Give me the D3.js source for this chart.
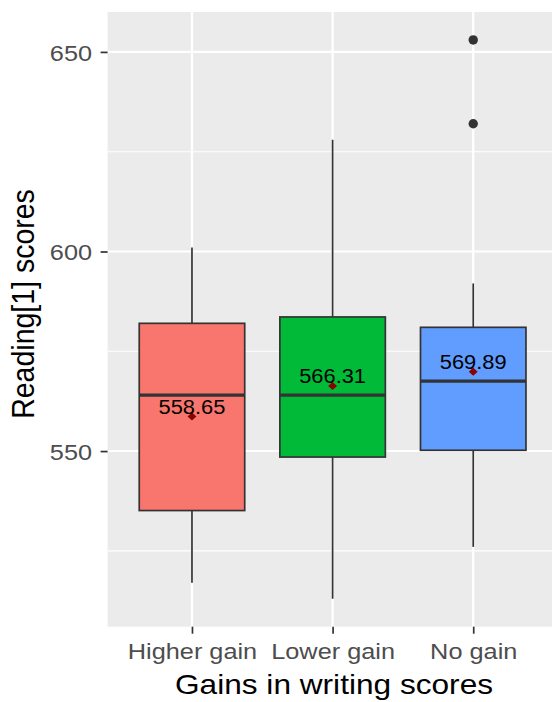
<!DOCTYPE html>
<html>
<head>
<meta charset="utf-8">
<script src="https://cdn.jsdelivr.net/npm/d3@7"></script>
<style>
  html, body { margin: 0; padding: 0; background: #ffffff; }
  svg { display: block; font-family: "Liberation Sans", Arial, Helvetica, sans-serif; }
</style>
</head>
<body>
<svg id="chart" width="552" height="702"></svg>
<script>
// Box summaries of Reading[1] scores per writing-gain group
const categories = ["Higher gain", "Lower gain", "No gain"];
const lowerWhisker = [517, 513, 526];
const q1 = [535.1, 548.5, 550.2];
const medians = [564, 564, 567.5];
const q3 = [582, 583.6, 581];
const upperWhisker = [601, 628, 592];
const means = [558.65, 566.31, 569.89];
const outliers = [[], [], [632, 653]];
const fills = ["#F8766D", "#00BA38", "#619CFF"];
const majorTicks = [550, 600, 650];
const minorTicks = [525, 575, 625];

const rows = categories.map((c, i) => ({
  cat: c, lo: lowerWhisker[i], q1: q1[i], med: medians[i], q3: q3[i],
  hi: upperWhisker[i], mean: means[i], out: outliers[i], fill: fills[i]
}));

const svg = d3.select("#chart");
const panel = { left: 107.6, right: 557.6, top: 12, bottom: 626.7 };
const sx = 1.11; // horizontal text stretch

// y domain from the data with 5% expansion on each side
const allVals = rows.flatMap(r => [r.lo, r.hi, ...r.out]);
const lo = d3.min(allVals), hi = d3.max(allVals), pad = (hi - lo) * 0.05;
const y = d3.scaleLinear().domain([lo - pad, hi + pad]).range([panel.bottom, panel.top]);
const x = d3.scalePoint().domain(categories).range([panel.left, panel.right]).padding(0.6);
const boxW = x.step() * 0.75;

// panel background
svg.append("rect")
  .attr("x", panel.left).attr("y", panel.top)
  .attr("width", panel.right - panel.left).attr("height", panel.bottom - panel.top)
  .attr("fill", "#EBEBEB");

// grid lines
const grid = svg.append("g");
grid.selectAll("line.minor").data(minorTicks).join("line")
  .attr("x1", panel.left).attr("x2", panel.right)
  .attr("y1", d => y(d)).attr("y2", d => y(d))
  .attr("stroke", "#ffffff").attr("stroke-width", 1.1);
grid.selectAll("line.major").data(majorTicks).join("line")
  .attr("x1", panel.left).attr("x2", panel.right)
  .attr("y1", d => y(d)).attr("y2", d => y(d))
  .attr("stroke", "#ffffff").attr("stroke-width", 2.1);
grid.selectAll("line.vert").data(categories).join("line")
  .attr("x1", d => x(d)).attr("x2", d => x(d))
  .attr("y1", panel.top).attr("y2", panel.bottom)
  .attr("stroke", "#ffffff").attr("stroke-width", 2.3);

// boxes
const box = svg.append("g").selectAll("g").data(rows).join("g");
box.append("line")
  .attr("x1", d => x(d.cat)).attr("x2", d => x(d.cat))
  .attr("y1", d => y(d.q3)).attr("y2", d => y(d.hi))
  .attr("stroke", "#333333").attr("stroke-width", 1.7);
box.append("line")
  .attr("x1", d => x(d.cat)).attr("x2", d => x(d.cat))
  .attr("y1", d => y(d.q1)).attr("y2", d => y(d.lo))
  .attr("stroke", "#333333").attr("stroke-width", 1.7);
box.append("rect")
  .attr("x", d => x(d.cat) - boxW / 2).attr("width", boxW)
  .attr("y", d => y(d.q3)).attr("height", d => y(d.q1) - y(d.q3))
  .attr("fill", d => d.fill).attr("stroke", "#333333").attr("stroke-width", 1.7);
box.append("line")
  .attr("x1", d => x(d.cat) - boxW / 2).attr("x2", d => x(d.cat) + boxW / 2)
  .attr("y1", d => y(d.med)).attr("y2", d => y(d.med))
  .attr("stroke", "#333333").attr("stroke-width", 3.3);

// outliers
svg.append("g").selectAll("circle")
  .data(rows.flatMap(r => r.out.map(v => ({ cat: r.cat, v }))))
  .join("circle")
  .attr("cx", d => x(d.cat)).attr("cy", d => y(d.v)).attr("r", 4.7)
  .attr("fill", "#333333");

// mean markers
const diamond = d3.symbol().type(d3.symbolSquare).size(32);
svg.append("g").selectAll("path").data(rows).join("path")
  .attr("d", diamond())
  .attr("transform", d => `translate(${x(d.cat)},${y(d.mean)}) scale(${sx},1) rotate(45)`)
  .attr("fill", "#8B0000");

// mean labels
svg.append("g").selectAll("text").data(rows).join("text")
  .attr("transform", d => `translate(${x(d.cat)},${y(d.mean) - 2.6}) scale(${sx},1)`)
  .attr("text-anchor", "middle")
  .attr("font-size", 19.7)
  .attr("fill", "#000000")
  .text(d => d.mean.toFixed(2));

// y axis
const yAxis = svg.append("g")
  .attr("transform", `translate(${panel.left},0)`)
  .call(d3.axisLeft(y).tickValues(majorTicks).tickSize(7).tickPadding(7));
yAxis.select(".domain").remove();
yAxis.selectAll(".tick line").attr("stroke", "#333333").attr("stroke-width", 1.7);
yAxis.selectAll(".tick text")
  .attr("font-size", 22.8).attr("fill", "#4D4D4D")
  .attr("font-family", "Liberation Sans, Arial, sans-serif")
  .attr("dy", "0.37em")
  .attr("transform", `scale(${sx},1)`);

// x axis
const xAxis = svg.append("g")
  .attr("transform", `translate(0,${panel.bottom})`)
  .call(d3.axisBottom(x).tickSize(7).tickPadding(9.6));
xAxis.select(".domain").remove();
xAxis.selectAll(".tick line").attr("stroke", "#333333").attr("stroke-width", 1.7);
xAxis.selectAll(".tick text")
  .attr("font-size", 22.8).attr("fill", "#4D4D4D")
  .attr("font-family", "Liberation Sans, Arial, sans-serif")
  .attr("transform", `scale(${sx},1)`);

// axis titles
svg.append("text")
  .attr("transform", `translate(334,693.5) scale(${sx},1)`)
  .attr("text-anchor", "middle").attr("font-size", 28.5).attr("fill", "#000000")
  .text("Gains in writing scores");
svg.append("text")
  .attr("transform", `translate(33.5,304) scale(${sx},1) rotate(-90)`)
  .attr("text-anchor", "middle").attr("font-size", 28.5).attr("fill", "#000000")
  .text("Reading[1] scores");
</script>
</body>
</html>
